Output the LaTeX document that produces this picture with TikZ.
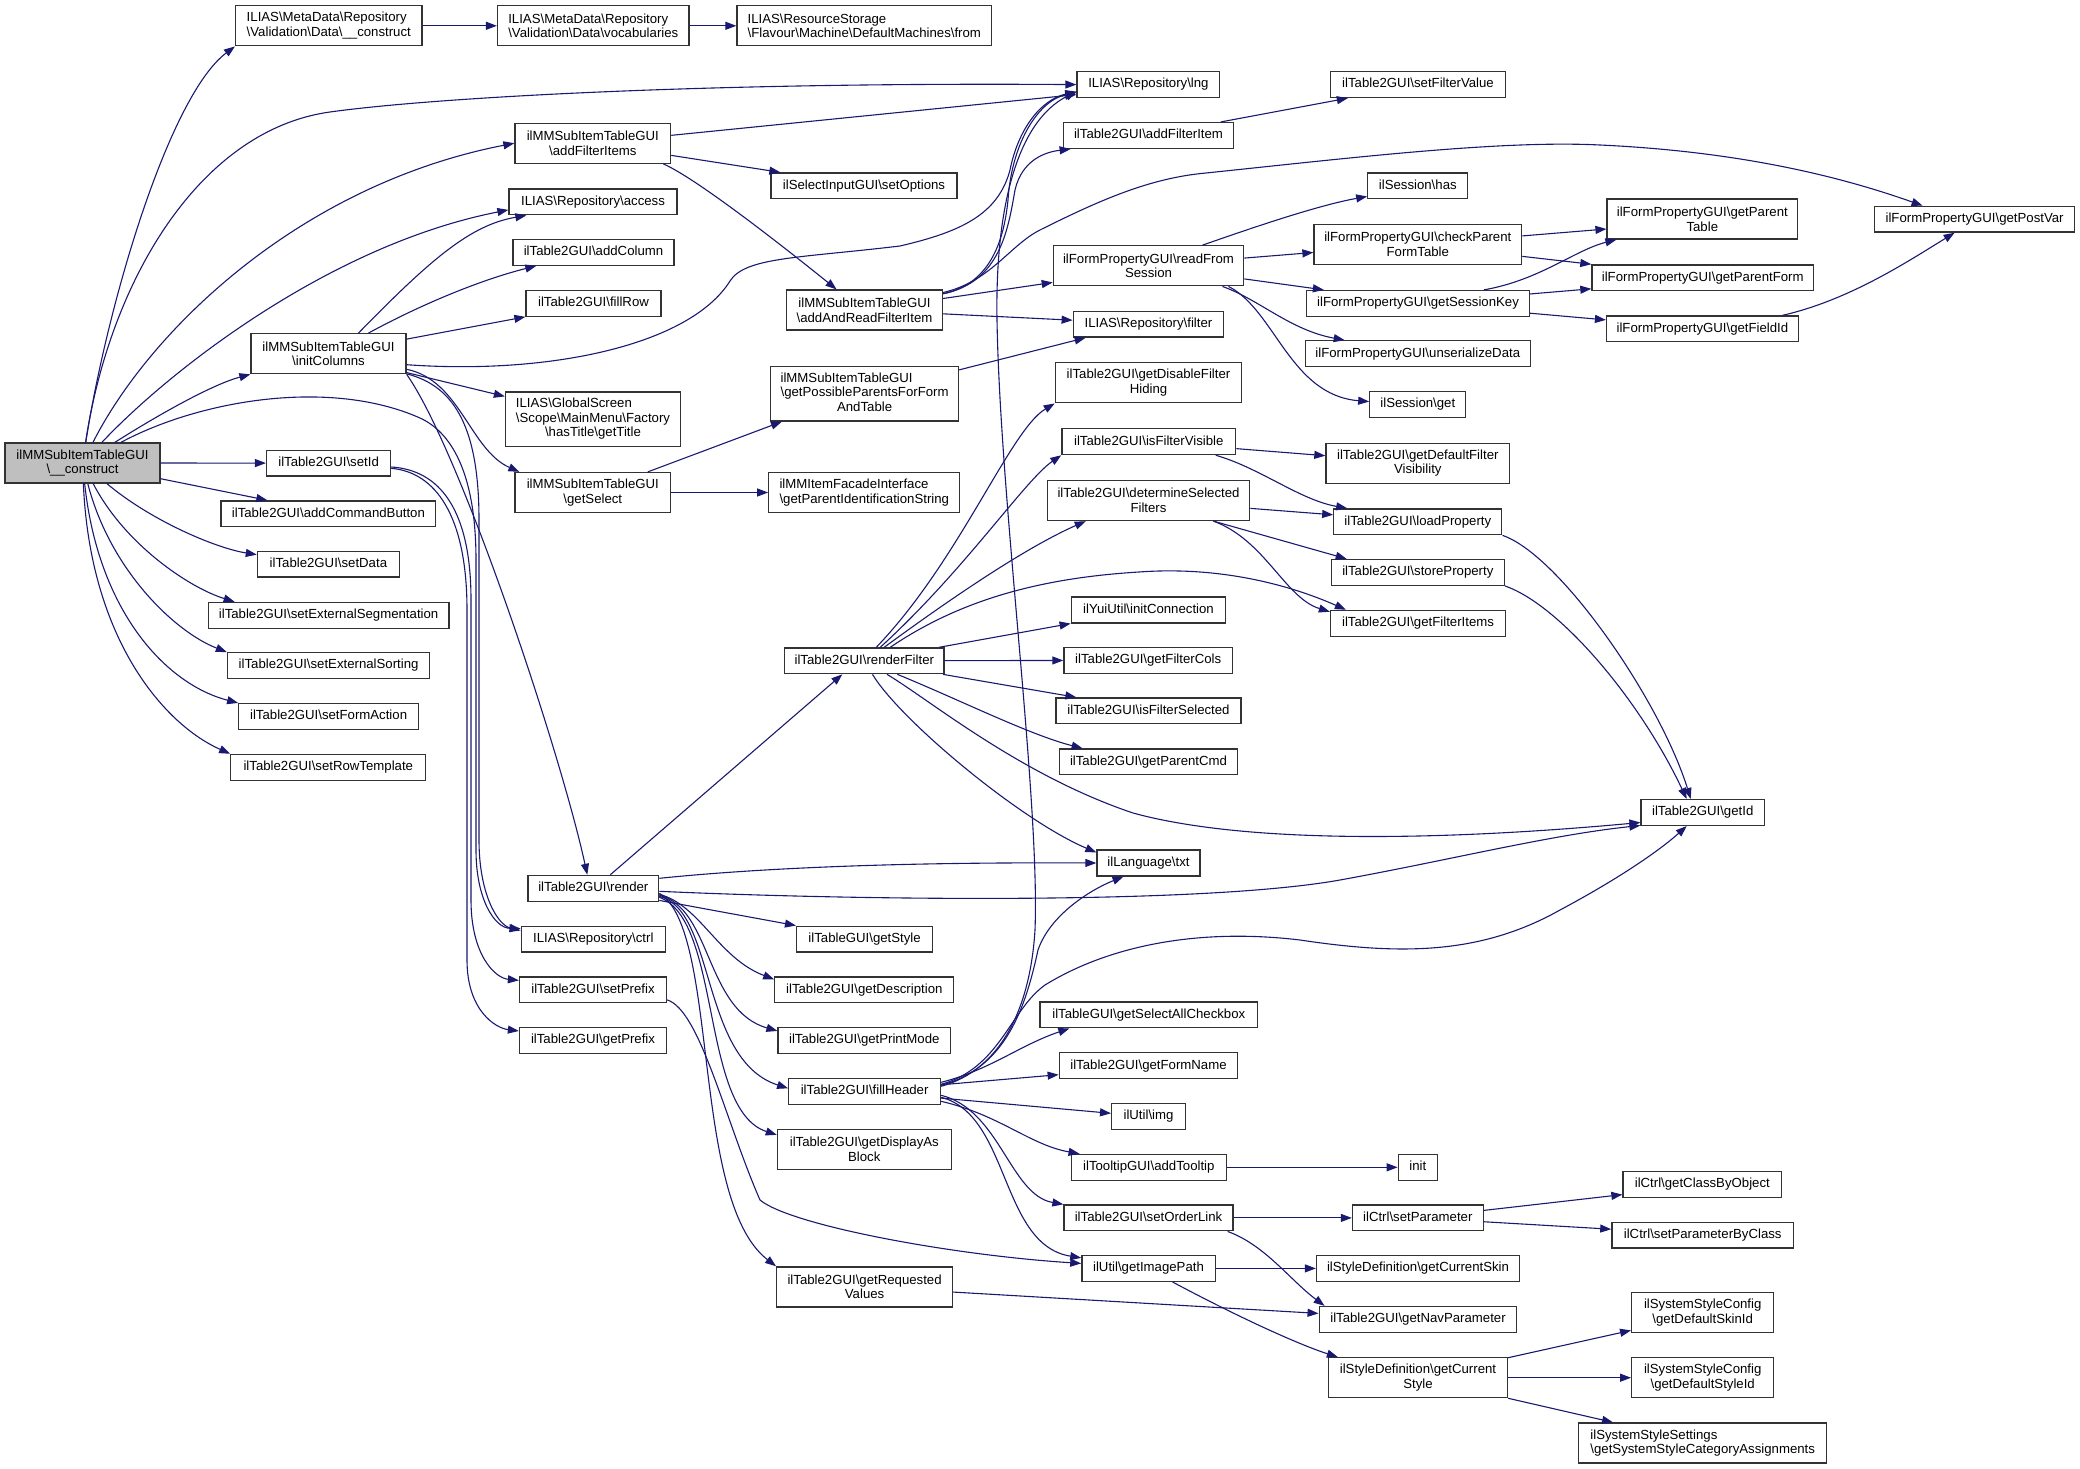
\documentclass[tikz,border=0pt]{standalone}
\usepackage{fontspec}
\setmainfont{Liberation Sans}
\usetikzlibrary{arrows.meta,positioning}
\definecolor{dxblue}{HTML}{191970}
\definecolor{dxgray}{HTML}{BFBFBF}
\newcommand{\bks}{\textbackslash}
\newcommand{\dxfont}{\fontsize{13.2pt}{14.7pt}\selectfont}

\begin{document}
\begin{tikzpicture}[x=1pt,y=-1pt,
fnbase/.style={draw=black!80,line width=1.3pt,fill=white,inner sep=0pt,minimum width=#1pt,font=\dxfont},
fn/.style={fnbase=#1,minimum height=25.8pt,text height=9.6pt,text depth=2.9pt},
fn2/.style={fnbase=#1,minimum height=40pt,align=center},
fn3/.style={fnbase=#1,minimum height=54.3pt},
call/.style={draw=dxblue,line width=1.1pt,-{Triangle[length=11pt,width=8pt]}}]
\useasboundingbox (0,0) rectangle (2080,1469);

\node[fn2=155,fill=dxgray] (main) at (82.5,463) {ilMMSubItemTableGUI\\\bks\_\_construct};
\node[fn2=186.5,align=left] (vdc) at (328.8,25.8) {ILIAS\bks MetaData\bks Repository\\\bks Validation\bks Data\bks\_\_construct};
\node[fn2=191.5,align=left] (vvoc) at (593.3,25.8) {ILIAS\bks MetaData\bks Repository\\\bks Validation\bks Data\bks vocabularies};
\node[fn2=254.6,align=left] (dmfrom) at (864.3,25.8) {ILIAS\bks ResourceStorage\\\bks Flavour\bks Machine\bks DefaultMachines\bks from};
\node[fn2=155.6] (afis) at (592.8,143.2) {ilMMSubItemTableGUI\\\bks addFilterItems};
\node[fn=186] (setopt) at (864,185.9) {ilSelectInputGUI\bks setOptions};
\node[fn=168] (access) at (593,201.9) {ILIAS\bks Repository\bks access};
\node[fn=161] (addcol) at (593.5,252.3) {ilTable2GUI\bks addColumn};
\node[fn=135] (fillrow) at (593.5,303.3) {ilTable2GUI\bks fillRow};
\node[fn2=155] (initcol) at (328.5,353.7) {ilMMSubItemTableGUI\\\bks initColumns};
\node[fn2=156] (aarf) at (864.5,310) {ilMMSubItemTableGUI\\\bks addAndReadFilterItem};
\node[fn3=188] (gpp) at (864.6,393.8) {\begin{tabular}{@{}l@{}}ilMMSubItemTableGUI\\\bks getPossibleParentsForForm\\\multicolumn{1}{@{}c@{}}{AndTable}\end{tabular}};
\node[fn3=175] (gtitle) at (593,419.2) {\begin{tabular}{@{}l@{}}ILIAS\bks GlobalScreen\\\bks Scope\bks MainMenu\bks Factory\\\multicolumn{1}{@{}c@{}}{\bks hasTitle\bks getTitle}\end{tabular}};
\node[fn2=155.6] (gsel) at (592.8,492.5) {ilMMSubItemTableGUI\\\bks getSelect};
\node[fn2=191,align=left] (gpis) at (864.3,492.5) {ilMMItemFacadeInterface\\\bks getParentIdentificationString};
\node[fn=124] (setid) at (328.6,463.1) {ilTable2GUI\bks setId};
\node[fn=214.8] (addcmd) at (328.4,513.8) {ilTable2GUI\bks addCommandButton};
\node[fn=142] (setdata) at (328.4,564.2) {ilTable2GUI\bks setData};
\node[fn=240.7] (setseg) at (328.6,615.3) {ilTable2GUI\bks setExternalSegmentation};
\node[fn=202.3] (setsort) at (328.6,665.6) {ilTable2GUI\bks setExternalSorting};
\node[fn=179.7] (setform) at (328.6,716.5) {ilTable2GUI\bks setFormAction};
\node[fn=195] (setrow) at (328.3,767.3) {ilTable2GUI\bks setRowTemplate};
\node[fn=159.2] (rfilter) at (864.3,660.8) {ilTable2GUI\bks renderFilter};
\node[fn=130.7] (render) at (593.3,888.3) {ilTable2GUI\bks render};
\node[fn=144] (ctrl) at (593.3,939.1) {ILIAS\bks Repository\bks ctrl};
\node[fn=147] (setpre) at (593,989.9) {ilTable2GUI\bks setPrefix};
\node[fn=147] (getpre) at (593,1040.5) {ilTable2GUI\bks getPrefix};
\node[fn=136] (gstyle) at (864.6,939.1) {ilTableGUI\bks getStyle};
\node[fn=179] (gdesc) at (864.3,989.9) {ilTable2GUI\bks getDescription};
\node[fn=172.5] (gprint) at (864.3,1040.5) {ilTable2GUI\bks getPrintMode};
\node[fn=151.8] (fillhead) at (864.6,1091.3) {ilTable2GUI\bks fillHeader};
\node[fn2=173.8] (gdab) at (864.3,1149.5) {ilTable2GUI\bks getDisplayAs\\Block};
\node[fn2=175.8] (greq) at (864.6,1286.9) {ilTable2GUI\bks getRequested\\Values};
\node[fn=142.8] (lng) at (1148.4,84.6) {ILIAS\bks Repository\bks lng};
\node[fn=175] (setfv) at (1418,84.6) {ilTable2GUI\bks setFilterValue};
\node[fn=170.5] (addfi) at (1148.5,135.5) {ilTable2GUI\bks addFilterItem};
\node[fn=100] (shas) at (1417.8,185.9) {ilSession\bks has};
\node[fn2=190.5] (gptab) at (1702.3,219) {ilFormPropertyGUI\bks getParent\\Table};
\node[fn=200.3] (gpvar) at (1974.6,219.2) {ilFormPropertyGUI\bks getPostVar};
\node[fn2=207.6] (cpft) at (1417.8,244.5) {ilFormPropertyGUI\bks checkParent\\FormTable};
\node[fn2=190.3] (rfs) at (1148.5,265.8) {ilFormPropertyGUI\bks readFrom\\Session};
\node[fn=221.5] (gpform) at (1702.7,277.8) {ilFormPropertyGUI\bks getParentForm};
\node[fn=223] (gskey) at (1418,303.4) {ilFormPropertyGUI\bks getSessionKey};
\node[fn=191.7] (gfield) at (1702.4,328.9) {ilFormPropertyGUI\bks getFieldId};
\node[fn=150.5] (filter) at (1148.5,324.2) {ILIAS\bks Repository\bks filter};
\node[fn=225] (unser) at (1417.8,353.7) {ilFormPropertyGUI\bks unserializeData};
\node[fn2=186.3] (gdfh) at (1148.5,382.8) {ilTable2GUI\bks getDisableFilter\\Hiding};
\node[fn=96] (sget) at (1417.8,404.6) {ilSession\bks get};
\node[fn=173.8] (isfv) at (1148.8,441.7) {ilTable2GUI\bks isFilterVisible};
\node[fn2=183.7] (gdfv) at (1417.8,463.2) {ilTable2GUI\bks getDefaultFilter\\Visibility};
\node[fn2=202.3] (dsf) at (1148.5,500.5) {ilTable2GUI\bks determineSelected\\Filters};
\node[fn=168] (loadp) at (1417.8,521.8) {ilTable2GUI\bks loadProperty};
\node[fn=173] (storep) at (1417.8,572.4) {ilTable2GUI\bks storeProperty};
\node[fn=154.5] (initcon) at (1148.5,610) {ilYuiUtil\bks initConnection};
\node[fn=175] (gfitems) at (1418,623.3) {ilTable2GUI\bks getFilterItems};
\node[fn=168.5] (gfcols) at (1148.2,660.3) {ilTable2GUI\bks getFilterCols};
\node[fn=185] (isfs) at (1148.5,710.9) {ilTable2GUI\bks isFilterSelected};
\node[fn=178.5] (gpcmd) at (1148.5,761.9) {ilTable2GUI\bks getParentCmd};
\node[fn=123.3] (getid) at (1702.7,812.5) {ilTable2GUI\bks getId};
\node[fn=103] (txt) at (1148.5,863) {ilLanguage\bks txt};
\node[fn=217.6] (gsac) at (1148.8,1014.9) {ilTableGUI\bks getSelectAllCheckbox};
\node[fn=178.5] (gfname) at (1148.5,1065.7) {ilTable2GUI\bks getFormName};
\node[fn=73.7] (img) at (1148.5,1116.3) {ilUtil\bks img};
\node[fn=155.2] (addtip) at (1148.8,1167.3) {ilTooltipGUI\bks addTooltip};
\node[fn=39] (init) at (1417.8,1167.3) {init};
\node[fn=158.6] (gcbo) at (1702.3,1184.6) {ilCtrl\bks getClassByObject};
\node[fn=169] (sorder) at (1148.5,1217.9) {ilTable2GUI\bks setOrderLink};
\node[fn=130.7] (setpar) at (1417.8,1217.9) {ilCtrl\bks setParameter};
\node[fn=181.7] (setpbc) at (1702.7,1235.2) {ilCtrl\bks setParameterByClass};
\node[fn=133.3] (gimgp) at (1148.5,1268.4) {ilUtil\bks getImagePath};
\node[fn=203] (gcskin) at (1418,1268.4) {ilStyleDefinition\bks getCurrentSkin};
\node[fn=197.6] (gnavp) at (1418,1319.4) {ilTable2GUI\bks getNavParameter};
\node[fn2=142] (gdskin) at (1702.7,1312.7) {ilSystemStyleConfig\\\bks getDefaultSkinId};
\node[fn2=179] (gcstyle) at (1418,1377.7) {ilStyleDefinition\bks getCurrent\\Style};
\node[fn2=142] (gdstyle) at (1702.7,1377.7) {ilSystemStyleConfig\\\bks getDefaultStyleId};
\node[fn2=248,align=left] (gscat) at (1702.7,1443) {ilSystemStyleSettings\\\bks getSystemStyleCategoryAssignments};

\draw[call] (main) .. controls (108,300) and (170,95) .. (vdc.south west);
\draw[call] (main) .. controls (110,280) and (200,130) .. (330,112) .. controls (430,98) and (700,82) .. (lng.west);
\draw[call] (main) .. controls (150,330) and (300,185) .. (afis.west);
\draw[call] (main) .. controls (170,370) and (330,245) .. ([yshift=-8pt]access.west);
\draw[call] (main) .. controls (150,420) and (210,385) .. (initcol.south west);
\draw[call] (main) .. controls (200,400) and (330,378) .. (420,418) .. controls (455,434) and (476,480) .. (476,560) -- (476,850) .. controls (476,900) and (495,928) .. ([yshift=-3pt]ctrl.north west);
\draw[call] (main) -- (setid);
\draw[call] (main) -- ([xshift=47pt]addcmd.north west);
\draw[call] (main) .. controls (150,520) and (215,548) .. ([yshift=-4pt]setdata.north west);
\draw[call] (main) .. controls (125,545) and (190,588) .. ([xshift=27pt]setseg.north west);
\draw[call] (main) .. controls (110,570) and (175,632) .. (setsort.north west);
\draw[call] (main) .. controls (98,610) and (165,684) .. (setform.north west);
\draw[call] (main) .. controls (90,640) and (165,725) .. (setrow.north west);

\draw[call] (vdc) -- (vvoc);
\draw[call] (vvoc) -- (dmfrom);
\draw[call] (afis) -- ([yshift=-10pt]lng.west);
\draw[call] (afis) -- ([xshift=10pt]setopt.north west);
\draw[call] ([xshift=-8pt]afis.south east) .. controls (700,180) and (800,260) .. ([xshift=-28pt]aarf.north);

\draw[call] ([xshift=30pt]initcol.north) .. controls (430,260) and (470,225) .. ([xshift=18pt]access.south west);
\draw[call] ([xshift=40pt]initcol.north) .. controls (420,305) and (480,280) .. ([xshift=24pt]addcol.south west);
\draw[call] (initcol) -- (fillrow.south west);
\draw[call] ([yshift=-11pt]initcol.east) .. controls (550,375) and (690,345) .. (730,281) .. controls (745,257) and (800,258) .. (900,246) .. controls (960,232) and (998,215) .. (1010,170) .. controls (1018,130) and (1040,100) .. ([yshift=-7pt]lng.west);
\draw[call] (initcol) -- ([yshift=-5pt]gtitle.north west);
\draw[call] (initcol) .. controls (460,380) and (470,450) .. ([xshift=5pt]gsel.north west);
\draw[call] (initcol.south east) .. controls (460,450) and (560,750) .. ([xshift=-6pt]render.north);
\draw[call] (initcol) .. controls (450,385) and (479,420) .. (479,520) -- (479,840) .. controls (479,895) and (498,925) .. ([yshift=-5pt]ctrl.north west);
\draw[call] (setid) .. controls (440,470) and (471,510) .. (471,600) -- (471,900) .. controls (471,955) and (495,978) .. ([yshift=-4pt]setpre.north west);
\draw[call] (setid) .. controls (435,472) and (467,515) .. (467,610) -- (467,960) .. controls (467,1010) and (495,1028) .. ([yshift=-4pt]getpre.north west);

\draw[call] (aarf) .. controls (985,285) and (1003,250) .. (1008,200) .. controls (1012,140) and (1040,100) .. ([yshift=-8pt]lng.west);
\draw[call] (aarf) .. controls (1000,282) and (1008,230) .. (1015,190) .. controls (1022,160) and (1045,152) .. ([xshift=8pt]addfi.south west);
\draw[call] (aarf) .. controls (990,282) and (1010,245) .. (1040,230) .. controls (1100,200) and (1150,178) .. (1206,173) .. controls (1350,158) and (1500,140) .. (1600,145) .. controls (1750,152) and (1850,180) .. ([xshift=-52pt]gpvar.north);
\draw[call] (aarf) -- ([yshift=4pt]rfs.south west);
\draw[call] (aarf) -- ([yshift=4pt]filter.west);
\draw[call] (gpp) -- ([xshift=13pt]filter.south west);
\draw[call] (gsel) -- ([xshift=12pt]gpp.south west);
\draw[call] (gsel) -- (gpis);
\draw[call] (addfi) -- ([xshift=18pt]setfv.south west);

\draw[call] ([xshift=54pt]rfs.north) .. controls (1260,225) and (1320,205) .. ([yshift=3pt]shas.south west);
\draw[call] (rfs) -- ([yshift=-8pt]cpft.west);
\draw[call] (rfs) -- ([xshift=18pt]gskey.north west);
\draw[call] ([xshift=74pt]rfs.south) .. controls (1260,300) and (1290,330) .. ([xshift=40pt]unser.north west);
\draw[call] ([xshift=80pt]rfs.south) .. controls (1275,310) and (1290,395) .. ([yshift=3pt]sget.west);
\draw[call] (cpft) -- ([yshift=-10pt]gptab.west);
\draw[call] (cpft) -- (gpform.north west);
\draw[call] ([xshift=66pt]gskey.north) .. controls (1540,280) and (1575,250) .. ([xshift=10pt]gptab.south west);
\draw[call] (gskey) -- ([yshift=-11pt]gpform.west);
\draw[call] (gskey) -- ([yshift=9pt]gfield.west);
\draw[call] ([xshift=80pt]gfield.north) .. controls (1850,300) and (1910,260) .. ([xshift=-20pt]gpvar.south);

\draw[call] (isfv) -- ([yshift=7.5pt]gdfv.west);
\draw[call] ([xshift=67pt]isfv.south) .. controls (1260,468) and (1300,500) .. ([xshift=14pt]loadp.north west);
\draw[call] (dsf) -- ([yshift=7pt]loadp.west);
\draw[call] ([xshift=65pt]dsf.south) -- ([xshift=16pt]storep.north west);
\draw[call] ([xshift=65pt]dsf.south) .. controls (1265,540) and (1285,598) .. ([yshift=-2pt]gfitems.north west);
\draw[call] (loadp.south east) .. controls (1560,555) and (1660,700) .. ([xshift=-12pt]getid.north);
\draw[call] (storep.south east) .. controls (1560,605) and (1640,700) .. ([xshift=-16pt]getid.north);

\draw[call] ([xshift=12pt]rfilter.north) .. controls (960,560) and (1010,430) .. (gdfh.south west);
\draw[call] ([xshift=16pt]rfilter.north) .. controls (965,570) and (1025,480) .. (isfv.south west);
\draw[call] ([xshift=20pt]rfilter.north) .. controls (935,610) and (1020,550) .. ([xshift=39pt]dsf.south west);
\draw[call] ([xshift=26pt]rfilter.north) .. controls (960,600) and (1040,578) .. (1139,572) .. controls (1220,566) and (1290,585) .. ([xshift=16pt]gfitems.north west);
\draw[call] (rfilter) -- (initcon.south west);
\draw[call] (rfilter) -- (gfcols);
\draw[call] (rfilter) -- ([xshift=21pt]isfs.north west);
\draw[call] (rfilter) .. controls (960,700) and (1030,735) .. ([xshift=24pt]gpcmd.north west);
\draw[call] (rfilter) .. controls (930,700) and (1020,775) .. (1133,813) .. controls (1250,845) and (1450,840) .. ([yshift=-10pt]getid.west);
\draw[call] (rfilter) .. controls (900,720) and (1020,820) .. ([yshift=-3pt]txt.north west);

\draw[call] ([xshift=17pt]render.north) -- ([xshift=-22pt]rfilter.south);
\draw[call] ([yshift=10pt]render.east) .. controls (760,868) and (900,862) .. (txt.west);
\draw[call] ([yshift=-3pt]render.east) .. controls (850,900) and (1200,905) .. (1340,880) .. controls (1450,860) and (1550,835) .. ([yshift=-13pt]getid.west);
\draw[call] (render) -- (gstyle.north west);
\draw[call] ([yshift=-6pt]render.east) .. controls (700,905) and (718,958) .. ([yshift=-3pt]gdesc.north west);
\draw[call] ([yshift=-7pt]render.east) .. controls (712,908) and (705,1010) .. ([yshift=-4pt]gprint.north west);
\draw[call] ([yshift=-8pt]render.east) .. controls (716,910) and (700,1060) .. ([yshift=3pt]fillhead.west);
\draw[call] ([yshift=-9pt]render.east) .. controls (722,920) and (700,1110) .. ([yshift=-6pt]gdab.north west);
\draw[call] ([yshift=-5pt]render.east) .. controls (720,930) and (690,1200) .. (greq.north west);

\draw[call] ([yshift=5pt]fillhead.east) .. controls (1000,1070) and (1030,1010) .. (1035,930) .. controls (1040,800) and (1000,500) .. (997,320) .. controls (995,200) and (1020,120) .. ([yshift=-7pt]lng.west);
\draw[call] ([yshift=6pt]fillhead.east) .. controls (1005,1068) and (1025,1010) .. (1038,950) .. controls (1050,915) and (1090,890) .. ([xshift=-25pt]txt.south);
\draw[call] ([yshift=7pt]fillhead.east) .. controls (1000,1068) and (1010,1010) .. (1045,985) .. controls (1110,945) and (1200,928) .. (1300,940) .. controls (1400,955) and (1480,955) .. (1560,910) .. controls (1620,878) and (1660,850) .. ([xshift=-16pt]getid.south);
\draw[call] ([yshift=9pt]fillhead.east) .. controls (990,1070) and (1020,1045) .. ([xshift=30pt]gsac.south west);
\draw[call] (fillhead) -- ([yshift=-9pt]gfname.west);
\draw[call] (fillhead) -- ([yshift=3pt]img.west);
\draw[call] ([yshift=-10pt]fillhead.east) .. controls (1000,1115) and (1030,1145) .. ([xshift=9pt]addtip.north west);
\draw[call] ([yshift=-4pt]fillhead.east) .. controls (1000,1110) and (1010,1195) .. (sorder.north west);
\draw[call] ([yshift=-6pt]fillhead.east) .. controls (1010,1115) and (1000,1245) .. ([yshift=-3pt]gimgp.north west);

\draw[call] ([yshift=-10pt]setpre.east) .. controls (700,1010) and (725,1120) .. (760,1200) .. controls (790,1225) and (950,1255) .. ([yshift=5pt]gimgp.west);
\draw[call] (greq) -- ([yshift=6pt]gnavp.west);
\draw[call] (sorder) -- (setpar);
\draw[call] ([xshift=-6pt]sorder.south east) .. controls (1265,1245) and (1290,1280) .. ([xshift=6pt]gnavp.north west);
\draw[call] (gimgp) -- (gcskin);
\draw[call] ([xshift=24pt]gimgp.south) .. controls (1240,1318) and (1300,1345) .. ([xshift=10pt]gcstyle.north west);
\draw[call] (addtip) -- (init);
\draw[call] (setpar) -- ([yshift=-10pt]gcbo.west);
\draw[call] (setpar) -- ([yshift=6pt]setpbc.west);
\draw[call] (gcstyle) -- ([yshift=3pt]gdskin.south west);
\draw[call] (gcstyle) -- (gdstyle);
\draw[call] (gcstyle) -- ([xshift=35pt]gscat.north west);
\end{tikzpicture}
\end{document}
